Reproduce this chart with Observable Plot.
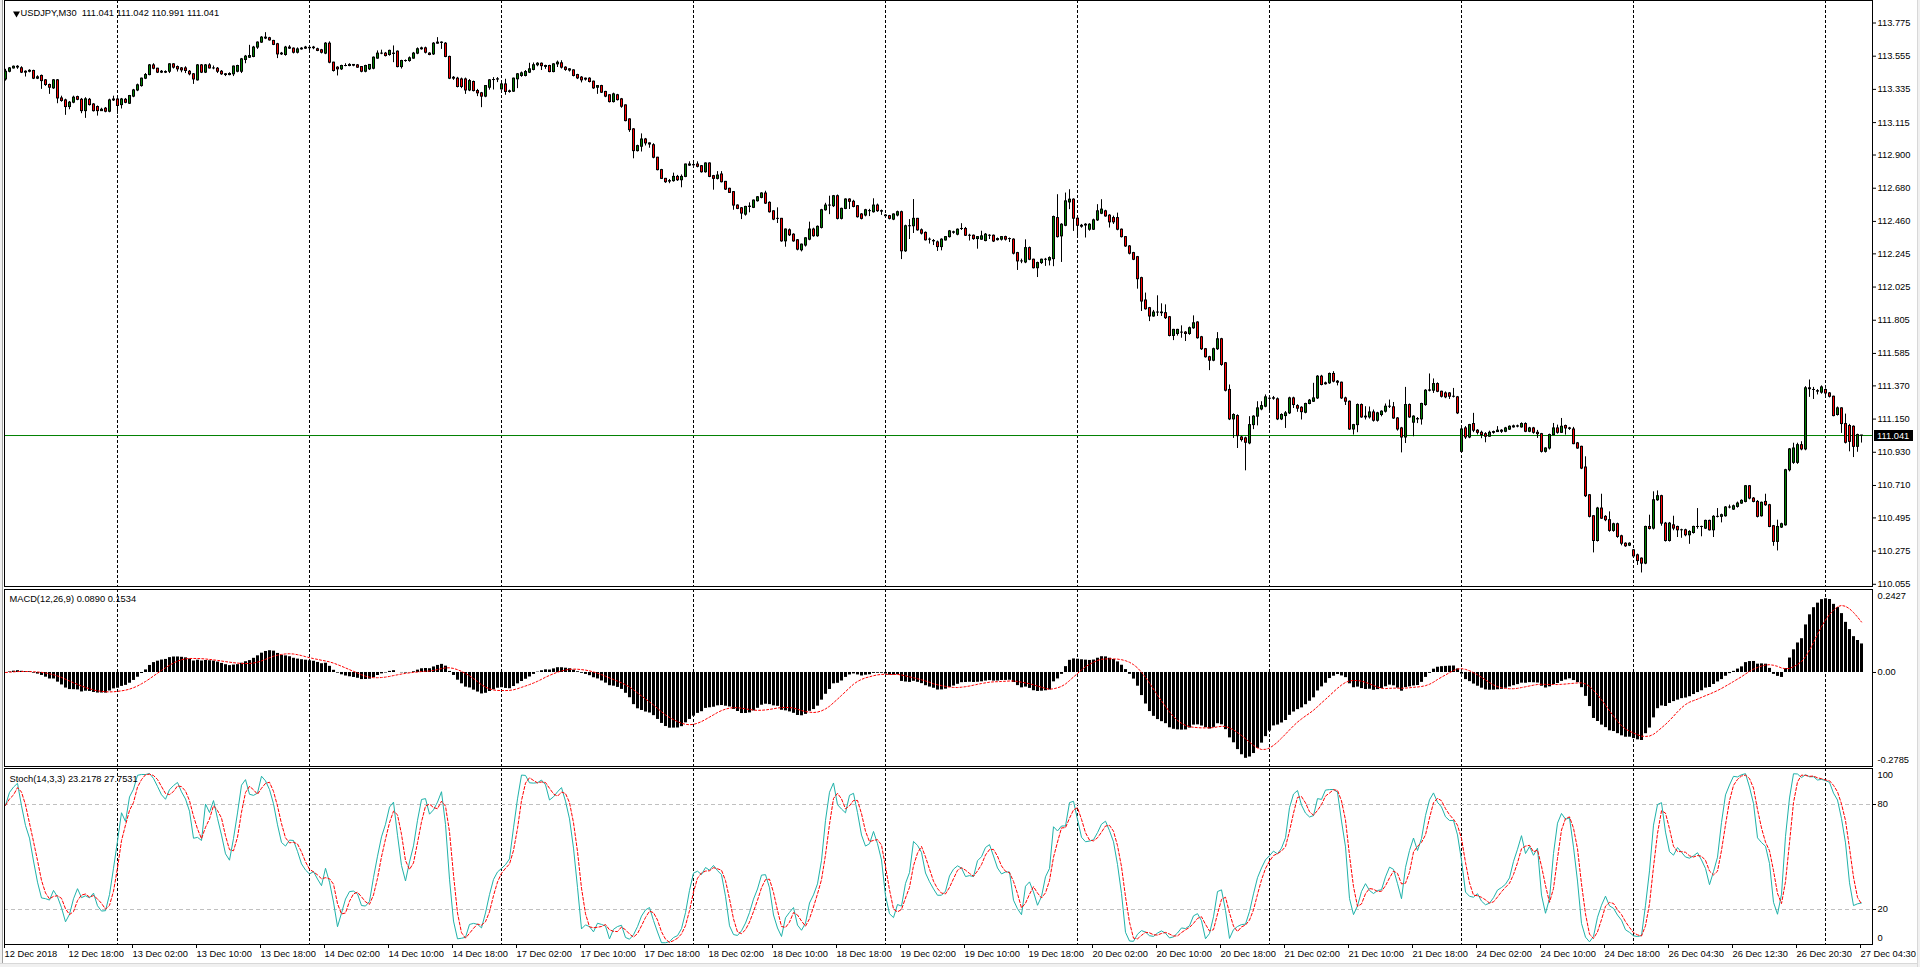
<!DOCTYPE html>
<html>
<head>
<meta charset="utf-8">
<title>USDJPY,M30</title>
<script src="https://cdn.jsdelivr.net/npm/d3@7"></script>
<script src="https://cdn.jsdelivr.net/npm/@observablehq/plot@0.6"></script>
<style>
  html, body { margin: 0; padding: 0; background: #ffffff; }
  #chart { position: relative; width: 1920px; height: 967px; overflow: hidden; background: #ffffff; }
  #chart > svg { position: absolute; left: 0; display: block; max-width: none; }
  .edge { position: absolute; background: #f0f0f0; z-index: 5; box-sizing: border-box; }
</style>
</head>
<body>
<div id="chart"></div>
<script>
// ---------------- data (USDJPY, M30) ----------------
const symbolText = "USDJPY,M30";
const headerValues = ["111.041", "111.042", "110.991", "111.041"];
const macdText = "MACD(12,26,9) 0.0890 0.1534";
const stochText = "Stoch(14,3,3) 23.2178 27.7531";
const currentPrice = 111.041;

// trading sessions: first bar (server time) and number of 30-minute bars
const sessionStarts = ["2018-12-12T10:00Z","2018-12-13T00:00Z","2018-12-14T00:00Z","2018-12-17T00:00Z","2018-12-18T00:00Z","2018-12-19T00:00Z","2018-12-20T00:00Z","2018-12-21T00:00Z","2018-12-24T00:00Z","2018-12-26T00:00Z","2018-12-27T00:00Z"];
const sessionBars = [28,48,48,48,48,48,48,48,43,48,10];

const opens = [
113.401,113.452,113.474,113.485,113.475,113.446,113.452,113.457,113.406,113.424,
113.395,113.364,113.342,113.395,113.275,113.262,113.218,113.247,113.284,113.266,
113.191,113.266,113.235,113.218,113.191,113.207,113.187,113.262,113.268,113.231,
113.266,113.240,113.287,113.328,113.357,113.406,113.430,113.494,113.472,113.446,
113.450,113.452,113.501,113.483,113.474,113.474,113.452,113.435,113.395,113.494,
113.446,113.494,113.474,113.472,113.452,113.435,113.430,113.435,113.452,113.452,
113.530,113.545,113.550,113.612,113.645,113.678,113.674,113.656,113.634,113.567,
113.563,113.612,113.605,113.578,113.600,113.605,113.610,113.608,113.601,113.594,
113.572,113.638,113.512,113.479,113.468,113.490,113.490,113.497,113.494,113.483,
113.452,113.468,113.472,113.539,113.572,113.572,113.563,113.572,113.585,113.483,
113.523,113.523,113.539,113.572,113.601,113.607,113.572,113.567,113.638,113.645,
113.638,113.550,113.406,113.406,113.401,113.401,113.328,113.384,113.324,113.309,
113.287,113.346,113.397,113.400,113.335,113.368,113.318,113.320,113.402,113.424,
113.424,113.446,113.464,113.495,113.505,113.490,113.490,113.450,113.501,113.508,
113.479,113.468,113.461,113.430,113.413,113.406,113.406,113.386,113.346,113.357,
113.318,113.296,113.251,113.296,113.269,113.229,113.136,113.070,112.926,112.955,
113.003,112.977,112.965,112.882,112.800,112.742,112.724,112.727,112.755,112.733,
112.755,112.837,112.832,112.837,112.826,112.786,112.844,112.760,112.742,112.771,
112.722,112.676,112.654,112.565,112.547,112.505,112.556,112.550,112.594,112.616,
112.645,112.583,112.527,112.477,112.477,112.328,112.401,112.372,112.335,112.269,
112.300,112.339,112.406,112.362,112.417,112.534,112.565,112.561,112.627,112.477,
112.543,112.605,112.590,112.561,112.506,112.499,112.528,112.521,112.565,112.528,
112.499,112.495,112.472,112.499,112.521,112.262,112.428,112.428,112.477,112.401,
112.384,112.339,112.330,112.321,112.290,112.334,112.356,112.388,112.372,112.410,
112.410,112.365,112.365,112.343,112.339,112.330,112.365,112.365,112.336,112.339,
112.356,112.343,112.339,112.250,112.195,112.188,112.283,112.206,112.150,112.184,
112.206,112.201,112.210,112.482,112.361,112.431,112.586,112.604,112.478,112.431,
112.438,112.405,112.405,112.467,112.511,112.527,112.498,112.482,112.482,112.405,
112.356,112.294,112.250,112.223,112.084,111.936,111.885,111.830,111.856,111.856,
111.852,111.825,111.701,111.714,111.723,111.723,111.714,111.752,111.790,111.692,
111.613,111.560,111.537,111.613,111.679,111.520,111.343,111.148,111.170,111.028,
111.022,110.989,111.110,111.166,111.214,111.232,111.285,111.285,111.281,111.148,
111.170,111.188,111.287,111.236,111.225,111.192,111.250,111.265,111.287,111.431,
111.381,111.387,111.449,111.398,111.391,111.287,111.265,111.081,111.110,111.243,
111.161,111.161,111.194,111.139,111.177,111.199,111.232,111.228,111.154,111.088,
111.028,111.243,111.126,111.148,111.148,111.243,111.338,111.338,111.382,111.331,
111.320,111.320,111.298,111.294,110.933,111.088,111.028,111.117,111.073,111.059,
111.050,111.033,111.059,111.064,111.073,111.066,111.080,111.095,111.102,111.095,
111.117,111.066,111.088,111.059,111.050,110.933,110.955,111.044,111.088,111.059,
111.104,111.088,111.081,110.989,110.966,110.829,110.645,110.506,110.342,110.557,
110.502,110.480,110.409,110.453,110.373,110.324,110.311,110.280,110.247,110.225,
110.192,110.435,110.424,110.612,110.639,110.457,110.342,110.446,110.435,110.413,
110.413,110.380,110.395,110.435,110.435,110.424,110.475,110.413,110.502,110.502,
110.506,110.564,110.550,110.568,110.590,110.601,110.705,110.623,110.601,110.506,
110.601,110.579,110.440,110.336,110.431,110.446,110.811,110.860,110.860,110.977,
110.949,111.354,111.343,111.335,111.325,111.343,111.320,111.298,111.177,111.221,
111.117,111.104,111.099,110.966,111.041];

const highs = [
113.468,113.480,113.490,113.492,113.485,113.458,113.465,113.462,113.425,113.430,
113.400,113.370,113.400,113.400,113.290,113.270,113.255,113.290,113.290,113.275,
113.280,113.275,113.240,113.225,113.210,113.215,113.270,113.290,113.290,113.275,
113.275,113.295,113.335,113.370,113.410,113.440,113.500,113.505,113.475,113.460,
113.458,113.505,113.505,113.490,113.480,113.485,113.460,113.440,113.500,113.500,
113.500,113.505,113.490,113.480,113.460,113.440,113.445,113.490,113.495,113.540,
113.560,113.627,113.620,113.650,113.685,113.711,113.680,113.660,113.640,113.580,
113.620,113.625,113.610,113.610,113.612,113.620,113.620,113.620,113.608,113.600,
113.645,113.650,113.515,113.485,113.495,113.505,113.505,113.500,113.500,113.485,
113.495,113.500,113.550,113.590,113.595,113.580,113.595,113.623,113.590,113.528,
113.530,113.550,113.580,113.610,113.615,113.615,113.578,113.645,113.678,113.650,
113.645,113.555,113.420,113.415,113.410,113.410,113.400,113.390,113.335,113.315,
113.360,113.400,113.413,113.413,113.380,113.402,113.330,113.410,113.440,113.450,
113.460,113.508,113.510,113.512,113.510,113.495,113.495,113.505,113.523,113.525,
113.485,113.472,113.465,113.435,113.420,113.410,113.412,113.390,113.360,113.362,
113.322,113.300,113.310,113.302,113.275,113.232,113.140,113.075,112.965,113.040,
113.010,112.980,112.975,112.885,112.805,112.745,112.738,112.780,112.765,112.768,
112.840,112.855,112.850,112.855,112.830,112.848,112.848,112.765,112.790,112.790,
112.725,112.680,112.658,112.570,112.552,112.560,112.583,112.602,112.625,112.650,
112.660,112.590,112.530,112.550,112.480,112.410,112.410,112.378,112.340,112.310,
112.352,112.455,112.415,112.430,112.540,112.580,112.627,112.632,112.635,112.548,
112.610,112.610,112.600,112.565,112.512,112.540,112.540,112.610,112.575,112.535,
112.505,112.500,112.510,112.528,112.528,112.435,112.472,112.605,112.480,112.410,
112.390,112.350,112.340,112.330,112.345,112.360,112.400,112.395,112.410,112.445,
112.420,112.375,112.370,112.360,112.395,112.380,112.372,112.370,112.350,112.360,
112.362,112.350,112.345,112.255,112.210,112.338,112.290,112.210,112.190,112.210,
112.215,112.225,112.495,112.637,112.445,112.648,112.670,112.610,112.485,112.440,
112.445,112.445,112.475,112.571,112.604,112.534,112.505,112.495,112.515,112.410,
112.360,112.300,112.255,112.228,112.090,111.985,111.890,111.870,111.967,111.914,
111.907,111.830,111.745,111.745,111.768,111.730,111.760,111.834,111.795,111.698,
111.618,111.566,111.620,111.723,111.685,111.525,111.376,111.185,111.178,111.035,
111.030,111.166,111.172,111.265,111.265,111.310,111.300,111.300,111.290,111.185,
111.200,111.295,111.295,111.245,111.232,111.255,111.280,111.387,111.438,111.440,
111.395,111.455,111.464,111.405,111.395,111.295,111.270,111.115,111.250,111.250,
111.232,111.230,111.210,111.195,111.205,111.250,111.276,111.260,111.160,111.095,
111.360,111.250,111.172,111.160,111.255,111.345,111.449,111.416,111.390,111.335,
111.330,111.325,111.353,111.300,111.090,111.100,111.115,111.188,111.080,111.070,
111.060,111.070,111.070,111.100,111.080,111.095,111.105,111.110,111.110,111.125,
111.125,111.095,111.095,111.075,111.055,110.960,111.050,111.121,111.110,111.154,
111.110,111.095,111.095,110.995,110.970,110.900,110.650,110.510,110.565,110.652,
110.510,110.535,110.460,110.460,110.380,110.330,110.330,110.285,110.255,110.230,
110.440,110.513,110.668,110.674,110.645,110.465,110.465,110.506,110.440,110.420,
110.420,110.410,110.440,110.557,110.440,110.480,110.480,110.510,110.557,110.520,
110.570,110.580,110.580,110.600,110.615,110.710,110.710,110.630,110.610,110.600,
110.652,110.585,110.445,110.480,110.460,110.817,110.955,110.990,110.990,111.000,
111.365,111.409,111.360,111.345,111.370,111.350,111.325,111.302,111.230,111.225,
111.183,111.115,111.105,111.050,111.042];

const lows = [
113.390,113.445,113.470,113.468,113.440,113.417,113.445,113.400,113.400,113.335,
113.355,113.302,113.335,113.240,113.250,113.163,113.200,113.240,113.260,113.174,
113.143,113.225,113.185,113.158,113.190,113.180,113.180,113.255,113.170,113.205,
113.240,113.235,113.280,113.320,113.350,113.400,113.425,113.465,113.440,113.440,
113.440,113.440,113.470,113.450,113.445,113.440,113.425,113.368,113.390,113.440,
113.440,113.470,113.465,113.440,113.428,113.420,113.425,113.420,113.445,113.440,
113.505,113.540,113.545,113.600,113.640,113.665,113.655,113.625,113.539,113.560,
113.555,113.600,113.570,113.570,113.595,113.600,113.585,113.598,113.585,113.570,
113.565,113.505,113.450,113.424,113.460,113.485,113.485,113.485,113.475,113.445,
113.445,113.460,113.465,113.535,113.565,113.550,113.555,113.512,113.478,113.470,
113.515,113.515,113.535,113.565,113.595,113.570,113.558,113.560,113.635,113.600,
113.545,113.400,113.395,113.345,113.340,113.302,113.320,113.318,113.287,113.214,
113.280,113.330,113.331,113.380,113.330,113.296,113.310,113.315,113.340,113.415,
113.418,113.440,113.458,113.485,113.460,113.468,113.445,113.445,113.480,113.470,
113.455,113.450,113.418,113.400,113.378,113.390,113.378,113.335,113.302,113.308,
113.280,113.245,113.245,113.258,113.210,113.120,113.050,112.875,112.920,112.920,
112.960,112.945,112.875,112.795,112.738,112.712,112.710,112.720,112.725,112.683,
112.750,112.825,112.825,112.815,112.780,112.780,112.750,112.667,112.735,112.715,
112.665,112.645,112.534,112.538,112.472,112.495,112.517,112.545,112.588,112.610,
112.572,112.515,112.465,112.446,112.322,112.289,112.360,112.322,112.265,112.258,
112.290,112.332,112.355,112.355,112.410,112.528,112.505,112.552,112.470,112.470,
112.538,112.539,112.550,112.482,112.470,112.490,112.492,112.515,112.520,112.500,
112.490,112.470,112.465,112.490,112.207,112.255,112.340,112.380,112.395,112.370,
112.330,112.310,112.300,112.261,112.265,112.330,112.350,112.375,112.365,112.400,
112.360,112.330,112.335,112.276,112.335,112.325,112.340,112.320,112.330,112.330,
112.330,112.320,112.238,112.135,112.180,112.180,112.200,112.145,112.088,112.175,
112.162,112.165,112.160,112.350,112.188,112.425,112.538,112.394,112.360,112.415,
112.350,112.395,112.400,112.460,112.505,112.488,112.416,112.440,112.398,112.350,
112.288,112.238,112.200,112.011,111.863,111.872,111.796,111.825,111.830,111.830,
111.810,111.695,111.670,111.700,111.686,111.664,111.705,111.745,111.680,111.605,
111.554,111.471,111.530,111.605,111.500,111.330,111.140,111.022,110.955,110.998,
110.807,110.980,111.080,111.105,111.205,111.225,111.200,111.275,111.140,111.140,
111.088,111.180,111.220,111.195,111.144,111.185,111.245,111.260,111.280,111.370,
111.375,111.380,111.390,111.370,111.280,111.240,111.075,111.044,111.060,111.155,
111.144,111.150,111.130,111.130,111.165,111.190,111.220,111.148,111.070,110.926,
110.988,111.155,111.033,111.120,111.110,111.235,111.330,111.320,111.325,111.290,
111.285,111.280,111.290,111.180,110.930,111.015,111.020,111.060,111.045,111.020,
110.993,111.030,111.050,111.062,111.055,111.060,111.075,111.090,111.092,111.090,
111.060,111.060,111.050,111.022,110.925,110.925,110.945,111.040,111.050,111.055,
111.044,111.075,110.980,110.950,110.815,110.630,110.495,110.263,110.335,110.485,
110.470,110.400,110.400,110.360,110.310,110.300,110.305,110.230,110.180,110.130,
110.185,110.415,110.415,110.605,110.440,110.335,110.335,110.410,110.365,110.360,
110.370,110.320,110.388,110.420,110.370,110.418,110.408,110.365,110.495,110.462,
110.500,110.555,110.545,110.560,110.585,110.595,110.615,110.595,110.495,110.500,
110.572,110.430,110.307,110.276,110.425,110.440,110.800,110.850,110.850,110.940,
110.940,111.294,111.280,111.310,111.315,111.300,111.290,111.165,111.170,111.055,
110.985,110.933,110.895,110.930,110.991];

const closes = [
113.452,113.474,113.485,113.480,113.446,113.452,113.458,113.406,113.415,113.390,
113.364,113.346,113.395,113.275,113.258,113.218,113.247,113.280,113.266,113.191,
113.269,113.231,113.191,113.191,113.200,113.187,113.262,113.268,113.225,113.268,
113.246,113.291,113.328,113.362,113.406,113.430,113.494,113.472,113.446,113.452,
113.446,113.501,113.479,113.468,113.461,113.457,113.435,113.401,113.494,113.446,
113.494,113.474,113.474,113.452,113.435,113.430,113.437,113.486,113.490,113.534,
113.552,113.556,113.612,113.645,113.678,113.672,113.660,113.630,113.567,113.572,
113.612,113.605,113.578,113.600,113.605,113.612,113.608,113.612,113.590,113.578,
113.638,113.512,113.457,113.468,113.490,113.490,113.497,113.492,113.479,113.452,
113.490,113.497,113.545,113.572,113.572,113.556,113.590,113.570,113.483,113.523,
113.523,113.541,113.572,113.601,113.607,113.578,113.563,113.638,113.645,113.643,
113.550,113.406,113.412,113.351,113.351,113.328,113.390,113.324,113.309,113.287,
113.357,113.395,113.397,113.402,113.368,113.318,113.322,113.406,113.435,113.441,
113.450,113.468,113.495,113.505,113.489,113.484,113.450,113.501,113.512,113.479,
113.464,113.460,113.424,113.408,113.395,113.400,113.384,113.342,113.357,113.313,
113.287,113.251,113.302,113.264,113.220,113.125,113.065,112.926,112.959,113.003,
112.977,112.970,112.882,112.800,112.742,112.720,112.727,112.755,112.733,112.755,
112.837,112.830,112.833,112.822,112.786,112.844,112.755,112.742,112.764,112.720,
112.671,112.649,112.565,112.543,112.512,112.556,112.558,112.598,112.620,112.645,
112.578,112.521,112.472,112.477,112.328,112.406,112.368,112.328,112.273,112.306,
112.348,112.406,112.362,112.424,112.534,112.565,112.565,112.627,112.477,112.543,
112.605,112.590,112.556,112.488,112.477,112.534,112.528,112.565,112.528,112.525,
112.495,112.477,112.506,112.521,112.262,112.428,112.428,112.477,112.401,112.379,
112.335,112.339,112.328,112.290,112.339,112.356,112.394,112.385,112.405,112.410,
112.365,112.365,112.343,112.356,112.361,112.372,112.365,112.327,112.343,112.356,
112.339,112.343,112.246,112.195,112.195,112.283,112.206,112.150,112.184,112.206,
112.206,112.217,112.489,112.356,112.438,112.593,112.604,112.478,112.431,112.425,
112.433,112.438,112.467,112.527,112.538,112.493,112.454,112.454,112.405,112.356,
112.294,112.246,112.206,112.077,111.929,111.878,111.830,111.856,111.856,111.852,
111.819,111.701,111.741,111.741,111.723,111.714,111.752,111.785,111.686,111.613,
111.560,111.537,111.613,111.679,111.509,111.338,111.148,111.177,111.037,111.011,
110.993,111.110,111.166,111.221,111.236,111.294,111.285,111.288,111.148,111.177,
111.188,111.287,111.243,111.219,111.196,111.250,111.272,111.287,111.431,111.376,
111.387,111.449,111.398,111.391,111.287,111.265,111.081,111.110,111.243,111.161,
111.166,111.194,111.139,111.188,111.199,111.232,111.232,111.154,111.081,111.028,
111.243,111.161,111.166,111.150,111.250,111.338,111.340,111.382,111.331,111.298,
111.294,111.298,111.298,111.188,111.081,111.028,111.110,111.073,111.059,111.044,
111.033,111.059,111.064,111.073,111.066,111.088,111.099,111.102,111.100,111.117,
111.066,111.088,111.059,111.050,110.933,110.955,111.044,111.088,111.059,111.099,
111.088,111.085,110.984,110.955,110.822,110.639,110.502,110.342,110.557,110.490,
110.480,110.409,110.453,110.369,110.324,110.307,110.324,110.240,110.209,110.192,
110.435,110.422,110.612,110.639,110.457,110.342,110.457,110.424,110.413,110.413,
110.380,110.402,110.435,110.435,110.435,110.475,110.413,110.502,110.502,110.513,
110.564,110.564,110.572,110.590,110.608,110.705,110.623,110.601,110.502,110.595,
110.579,110.435,110.336,110.435,110.453,110.811,110.949,110.955,110.977,110.949,
111.354,111.348,111.343,111.332,111.360,111.320,111.298,111.170,111.221,111.117,
110.993,110.999,110.966,111.044,111.041];

// axis tick values / labels
const priceTicks = [113.775,113.555,113.335,113.115,112.900,112.680,112.460,112.245,112.025,111.805,111.585,111.370,111.150,110.930,110.710,110.495,110.275,110.055];
const macdMax = 0.2427, macdMin = -0.2785;
const macdTickLabels = ["0.2427", "0.00", "-0.2785"];
const stochLevels = [20, 80];
const stochTicks = [100, 80, 20, 0];
const labelEvery = 16;

// ---------------- derived tables ----------------
const N = Math.min(opens.length, highs.length, lows.length, closes.length);
const times = [];
sessionStarts.forEach((s, k) => {
  const t0 = new Date(s).getTime();
  for (let j = 0; j < sessionBars[k]; j++) times.push(new Date(t0 + j * 30 * 60000));
});
const bars = d3.range(N).map(i => ({i, open: opens[i], high: highs[i], low: lows[i], close: closes[i], time: times[i]}));
const separators = bars.filter(d => d.i > 0 && d3.utcDay.floor(d.time).getTime() !== d3.utcDay.floor(times[d.i - 1]).getTime()).map(d => d.i);
const tickIdx = d3.range(0, N, labelEvery);
const fmtFirst = d3.utcFormat("%d %b %Y"), fmtRest = d3.utcFormat("%d %b %H:%M");
const tickLabel = new Map(tickIdx.map(i => [i, i === 0 ? fmtFirst(times[i]) : fmtRest(times[i])]));

// MACD(12,26,9): EMA12 - EMA26 of close, signal = SMA9 of MACD
function ema(src, p) { const k = 2 / (p + 1); let e = src[0]; return src.map((v, i) => (e = i === 0 ? v : v * k + e * (1 - k))); }
function sma(src, p) { return src.map((_, i) => { const s = Math.max(0, i - p + 1); return d3.mean(src.slice(s, i + 1)); }); }
const e12 = ema(closes.slice(0, N), 12), e26 = ema(closes.slice(0, N), 26);
const macdMain = e12.map((v, i) => v - e26[i]);
const macdSignal = sma(macdMain, 9);
const macdRows = bars.map(d => ({i: d.i, macd: macdMain[d.i], signal: macdSignal[d.i]}));

// Stochastic(14,3,3)
const LL = bars.map(d => d3.min(lows.slice(Math.max(0, d.i - 13), d.i + 1)));
const HH = bars.map(d => d3.max(highs.slice(Math.max(0, d.i - 13), d.i + 1)));
const kMain = bars.map(d => {
  let a = 0, b = 0;
  for (let j = Math.max(0, d.i - 2); j <= d.i; j++) { a += closes[j] - LL[j]; b += HH[j] - LL[j]; }
  return b > 0 ? 100 * a / b : 50;
});
const kSignal = sma(kMain, 3);
const stochRows = bars.map(d => ({i: d.i, k: kMain[d.i], d: kSignal[d.i]}));

// ---------------- drawing ----------------
const FONT = '"Liberation Sans", Arial, Helvetica, sans-serif';
const FS = "9.3px";
const UP = "#008000", DOWN = "#ff0000";
const W = 1920, ML = 4, MR = 48;
const xScale = {domain: [-1, 467], range: [1, 1873], axis: null, label: null};
const baseStyle = {fontFamily: FONT, fontSize: FS, color: "#000", background: "#ffffff", overflow: "visible"};
const chart = document.getElementById("chart");
function place(svg, top) { svg.style.position = "absolute"; svg.style.left = "0px"; svg.style.top = top + "px"; chart.appendChild(svg); }
const sepMark = () => Plot.ruleX(separators, {x: d => d, stroke: "#000", strokeDasharray: "3,2"});
const rightAxis = (ticks, opts = {}) => Plot.axisY(ticks, {anchor: "right", tickSize: 3, tickPadding: 2, label: null, fill: "#000", fontSize: FS, ...opts});

// main price pane
const mainPlot = Plot.plot({
  width: W, height: 587,
  marginLeft: ML, marginRight: MR, marginTop: 0, marginBottom: 1,
  style: baseStyle,
  x: xScale,
  y: {domain: [110.055, 113.775], range: [583.8, 22.5], axis: null, label: null},
  marks: [
    sepMark(),
    Plot.ruleY([currentPrice], {stroke: UP}),
    Plot.ruleX(bars, {x: "i", y1: "low", y2: "high", stroke: "#000"}),
    Plot.rect(bars, {x1: d => d.i - 0.25, x2: d => d.i + 0.5, y1: "open", y2: "close", fill: "#000", insetTop: -0.5, insetBottom: -0.5}),
    Plot.rect(bars, {x1: "i", x2: d => d.i + 0.25, y1: "open", y2: "close", fill: d => d.close >= d.open ? UP : DOWN, insetTop: 0.5, insetBottom: 0.5}),
    Plot.frame({stroke: "#000"}),
    rightAxis(priceTicks, {tickFormat: d => d.toFixed(3)}),
    Plot.dot([0], {frameAnchor: "top-left", dx: 12, dy: 13, symbol: "triangle", r: 2.6, fill: "#000", rotate: 180}),
    Plot.text([symbolText + "\u00a0\u00a0" + headerValues.join(" ")], {frameAnchor: "top-left", dx: 16, dy: 12.7, textAnchor: "start", lineAnchor: "middle", fill: "#000", fontSize: FS})
  ]
});
place(mainPlot, 0);
{
  // current bid label on the price axis, positioned with the plot's own y scale
  const yPix = mainPlot.scale("y").apply(currentPrice);
  const xAxis0 = W - MR;
  const g = d3.select(mainPlot).append("g").attr("text-anchor", "start");
  g.append("rect").attr("x", xAxis0 + 2).attr("y", Math.round(yPix) - 5).attr("width", 39).attr("height", 11).attr("fill", "#000");
  g.append("text").attr("x", xAxis0 + 5).attr("y", Math.round(yPix) + 4).attr("fill", "#fff").attr("text-anchor", "start")
    .attr("font-family", FONT).attr("font-size", FS).text(currentPrice.toFixed(3));
}

// MACD pane
const macdPlot = Plot.plot({
  width: W, height: 180,
  marginLeft: ML, marginRight: MR, marginTop: 2, marginBottom: 1,
  style: baseStyle,
  x: xScale,
  y: {domain: [macdMin, macdMax], range: [178.5, 3.5], axis: null, label: null},
  marks: [
    sepMark(),
    Plot.rect(macdRows, {x1: d => d.i - 0.25, x2: d => d.i + 0.5, y1: 0, y2: "macd", fill: "#000", clip: true}),
    Plot.line(macdRows, {x: "i", y: "signal", stroke: "#ff0000", strokeWidth: 1, strokeDasharray: "2,2", clip: true}),
    Plot.frame({stroke: "#000"}),
    rightAxis([0], {tickFormat: () => macdTickLabels[1]}),
    rightAxis([macdMax], {tickSize: 0, tickPadding: 5, dy: 5, tickFormat: () => macdTickLabels[0]}),
    rightAxis([macdMin], {tickSize: 0, tickPadding: 5, dy: -6, tickFormat: () => macdTickLabels[2]}),
    Plot.text([macdText], {frameAnchor: "top-left", dx: 5, dy: 9.5, textAnchor: "start", lineAnchor: "middle", fill: "#000", fontSize: FS})
  ]
});
place(macdPlot, 587);

// Stochastic pane + time axis
const stochPlot = Plot.plot({
  width: W, height: 200,
  marginLeft: ML, marginRight: MR, marginTop: 1, marginBottom: 23,
  style: baseStyle,
  x: xScale,
  y: {domain: [0, 100], range: [177, 2], axis: null, label: null},
  marks: [
    sepMark(),
    Plot.ruleY(stochLevels, {stroke: "#c0c0c0", strokeDasharray: "4,3"}),
    Plot.line(stochRows, {x: "i", y: "k", stroke: "#20b2aa", strokeWidth: 1}),
    Plot.line(stochRows, {x: "i", y: "d", stroke: "#ff0000", strokeWidth: 1, strokeDasharray: "3,2"}),
    Plot.frame({stroke: "#000"}),
    rightAxis(stochTicks.slice(1, 3)),
    rightAxis([stochTicks[0]], {tickSize: 0, tickPadding: 5, dy: 6}),
    rightAxis([stochTicks[3]], {tickSize: 0, tickPadding: 5, dy: -6}),
    Plot.axisX(tickIdx, {anchor: "bottom", tickSize: 4, tickPadding: 2, textAnchor: "start", dx: -1, label: null, fill: "#000", fontSize: FS, tickFormat: i => tickLabel.get(i)}),
    Plot.text([stochText], {frameAnchor: "top-left", dx: 5, dy: 10.5, textAnchor: "start", lineAnchor: "middle", fill: "#000", fontSize: FS})
  ]
});
place(stochPlot, 767);

// window frame edges
function edge(css) { const d = document.createElement("div"); d.className = "edge"; d.setAttribute("style", css); chart.appendChild(d); }
edge("left:0;top:0;width:3px;height:967px;border-right:1px solid #a0a0a0;");
edge("left:0;top:963px;width:1920px;height:4px;border-top:1px solid #d8d8d8;");
edge("left:1917px;top:0;width:3px;height:967px;border-left:1px solid #d8d8d8;");
</script>
</body>
</html>
